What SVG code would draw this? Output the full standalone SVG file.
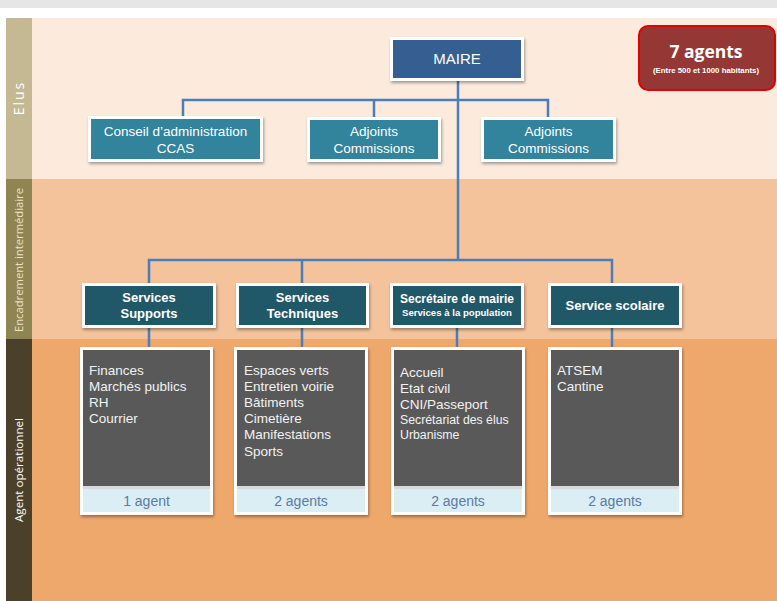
<svg xmlns="http://www.w3.org/2000/svg" width="777" height="601" viewBox="0 0 777 601">
<defs>
<filter id="sh" x="-10%" y="-10%" width="130%" height="140%">
<feDropShadow dx="1" dy="2" stdDeviation="1.5" flood-color="#000" flood-opacity="0.35"/>
</filter>
<style>
.t{font-family:"Liberation Sans",Arial,sans-serif;fill:#fff;}
.c{text-anchor:middle;}
.b{font-weight:bold;}
.frame{fill:#fff;filter:url(#sh);}
.elu{fill:#31849B;}
.svc{fill:#215868;}
.dark{fill:#595959;}
.foot{fill:#DAEEF3;}
.lst{font-size:13.5px;fill:#F2F2F2;}
.ft{font-family:"Liberation Sans",Arial,sans-serif;font-size:14px;fill:#5A7BA6;text-anchor:middle;}
.lab{font-family:"Open Sans","Liberation Sans",sans-serif;fill:#fff;text-anchor:middle;}
.conn{fill:none;stroke:#4A7EBB;stroke-width:2.5;}
</style>
</defs>
<rect x="0" y="0" width="777" height="601" fill="#fff"/>
<rect x="0" y="0" width="777" height="8" fill="#E6E6E6"/>
<g id="bands">
<rect x="32" y="18" width="745" height="161" fill="#FCEBDD"/>
<rect x="32" y="179" width="745" height="160" fill="#F4C29B"/>
<rect x="32" y="339" width="745" height="262" fill="#EFA86C"/>
<rect x="6" y="18" width="26" height="161" fill="#C4B993"/>
<rect x="6" y="179" width="26" height="160" fill="#8F8553"/>
<rect x="6" y="339" width="26" height="262" fill="#4B412A"/>
<text class="lab" transform="translate(24,98) rotate(-90)" font-size="14" letter-spacing="2">Elus</text>
<text class="lab" transform="translate(22.5,260) rotate(-90)" font-size="10" fill="#E9E3C9" style="fill:#E9E3C9" textLength="144" lengthAdjust="spacingAndGlyphs">Encadrement intermédiaire</text>
<text class="lab" transform="translate(23,470) rotate(-90)" font-size="10.5" textLength="104" lengthAdjust="spacingAndGlyphs">Agent opérationnel</text>
</g>
<g id="connectors">
<path class="conn" d="M458 81 V260"/>
<path class="conn" d="M183 116 V100 H548 V117"/>
<path class="conn" d="M374 100 V117"/>
<path class="conn" d="M149 283 V260 H612 V283"/>
<path class="conn" d="M302 260 V283"/>
<path class="conn" d="M149 328 V347 M302 328 V347 M457 328 V347 M612 328 V347"/>
</g>
<g id="agents7">
<rect x="639" y="26" width="136" height="64" rx="9" fill="#953735" stroke="#E50000" stroke-width="2"/>
<text class="t c b" x="706" y="58" font-size="17.5" style="font-family:'Open Sans','Liberation Sans',sans-serif">7 agents</text>
<text class="t c b" x="706" y="73" font-size="7" textLength="106" lengthAdjust="spacingAndGlyphs">(Entre 500 et 1000 habitants)</text>
</g>
<g id="maire">
<rect class="frame" x="390" y="37" width="134" height="44"/>
<rect x="393" y="40" width="128" height="38" fill="#365F91"/>
<text class="t c" x="457" y="64" font-size="15">MAIRE</text>
</g>
<g id="ccas">
<rect class="frame" x="88" y="116" width="175" height="46"/>
<rect class="elu" x="91" y="119" width="169" height="40"/>
<text class="t c" x="175.5" y="136" font-size="13.5">Conseil d’administration</text>
<text class="t c" x="175.5" y="153" font-size="13.5">CCAS</text>
</g>
<g id="adjoints1">
<rect class="frame" x="307" y="117" width="134" height="45"/>
<rect class="elu" x="310" y="120" width="128" height="39"/>
<text class="t c" x="374" y="136" font-size="13.5">Adjoints</text>
<text class="t c" x="374" y="153" font-size="13.5">Commissions</text>
</g>
<g id="adjoints2">
<rect class="frame" x="481" y="117" width="135" height="45"/>
<rect class="elu" x="484" y="120" width="129" height="39"/>
<text class="t c" x="548.5" y="136" font-size="13.5">Adjoints</text>
<text class="t c" x="548.5" y="153" font-size="13.5">Commissions</text>
</g>
<g id="supports">
<rect class="frame" x="82" y="283" width="134" height="45"/>
<rect class="svc" x="85" y="286" width="128" height="39"/>
<text class="t c b" x="149" y="302" font-size="13">Services</text>
<text class="t c b" x="149" y="318" font-size="13">Supports</text>
</g>
<g id="techniques">
<rect class="frame" x="236" y="283" width="133" height="45"/>
<rect class="svc" x="239" y="286" width="127" height="39"/>
<text class="t c b" x="302.5" y="302" font-size="13">Services</text>
<text class="t c b" x="302.5" y="318" font-size="13">Techniques</text>
</g>
<g id="secretaire">
<rect class="frame" x="390" y="283" width="134" height="45"/>
<rect class="svc" x="393" y="286" width="128" height="39"/>
<text class="t c b" x="457" y="303" font-size="12" textLength="114" lengthAdjust="spacingAndGlyphs">Secrétaire de mairie</text>
<text class="t c b" x="457" y="316" font-size="9.5" textLength="110" lengthAdjust="spacingAndGlyphs">Services à la population</text>
</g>
<g id="scolaire">
<rect class="frame" x="548" y="283" width="134" height="45"/>
<rect class="svc" x="551" y="286" width="128" height="39"/>
<text class="t c b" x="615" y="310" font-size="13">Service scolaire</text>
</g>
<g id="box-supports">
<rect class="frame" x="80" y="347" width="133" height="168"/>
<rect class="dark" x="83" y="350" width="127" height="136"/>
<rect x="83" y="486" width="127" height="3" fill="#D9D9D9"/>
<rect class="foot" x="83" y="489" width="127" height="23"/>
<text class="t lst" x="89" y="375">Finances</text>
<text class="t lst" x="89" y="391">Marchés publics</text>
<text class="t lst" x="89" y="407">RH</text>
<text class="t lst" x="89" y="423">Courrier</text>
<text class="ft" x="146.5" y="506">1 agent</text>
</g>
<g id="box-techniques">
<rect class="frame" x="234" y="347" width="134" height="168"/>
<rect class="dark" x="237" y="350" width="128" height="136"/>
<rect x="237" y="486" width="128" height="3" fill="#D9D9D9"/>
<rect class="foot" x="237" y="489" width="128" height="23"/>
<text class="t lst" x="244" y="375">Espaces verts</text>
<text class="t lst" x="244" y="391">Entretien voirie</text>
<text class="t lst" x="244" y="407">Bâtiments</text>
<text class="t lst" x="244" y="423">Cimetière</text>
<text class="t lst" x="244" y="439">Manifestations</text>
<text class="t lst" x="244" y="456">Sports</text>
<text class="ft" x="301" y="506">2 agents</text>
</g>
<g id="box-secretaire">
<rect class="frame" x="391" y="347" width="134" height="168"/>
<rect class="dark" x="394" y="350" width="128" height="136"/>
<rect x="394" y="486" width="128" height="3" fill="#D9D9D9"/>
<rect class="foot" x="394" y="489" width="128" height="23"/>
<text class="t lst" x="400" y="377">Accueil</text>
<text class="t lst" x="400" y="393">Etat civil</text>
<text class="t lst" x="400" y="409">CNI/Passeport</text>
<text class="t lst" x="400" y="424" style="font-size:12.3px">Secrétariat des élus</text>
<text class="t lst" x="400" y="439" style="font-size:12.3px">Urbanisme</text>
<text class="ft" x="458" y="506">2 agents</text>
</g>
<g id="box-scolaire">
<rect class="frame" x="548" y="347" width="134" height="168"/>
<rect class="dark" x="551" y="350" width="128" height="136"/>
<rect x="551" y="486" width="128" height="3" fill="#D9D9D9"/>
<rect class="foot" x="551" y="489" width="128" height="23"/>
<text class="t lst" x="557" y="375">ATSEM</text>
<text class="t lst" x="557" y="391">Cantine</text>
<text class="ft" x="615" y="506">2 agents</text>
</g>
</svg>
